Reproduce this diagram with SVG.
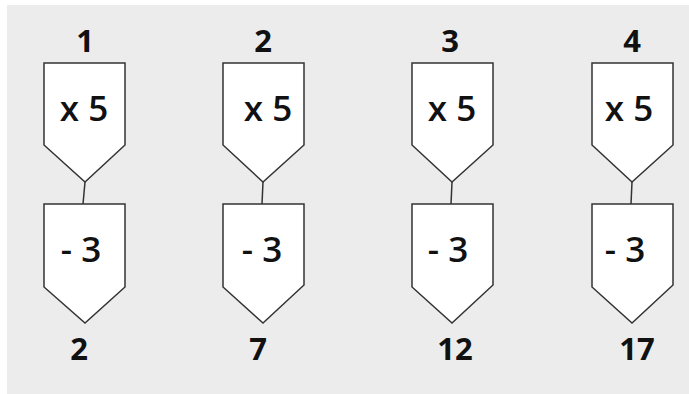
<svg xmlns="http://www.w3.org/2000/svg" width="689" height="394" viewBox="0 0 689 394">
<style>
.shape{fill:#fff;stroke:#333;stroke-width:1.5;stroke-linejoin:miter}
.conn{stroke:#333;stroke-width:1.5;fill:none}
.op{font-family:"Open Sans","Noto Sans",sans-serif;font-weight:600;font-size:35px;fill:#111;text-anchor:middle}
.num{font-family:"Open Sans","Noto Sans",sans-serif;font-weight:700;font-size:31px;fill:#111;text-anchor:middle}
</style>
<rect x="7" y="5" width="682" height="389" fill="#ececec"/>
<g id="connectors">
<line class="conn" x1="85" y1="182" x2="83" y2="204"/>
<line class="conn" x1="263" y1="182" x2="262" y2="204"/>
<line class="conn" x1="452" y1="182" x2="451" y2="204"/>
<line class="conn" x1="632" y1="182" x2="631" y2="204"/>
</g>
<g id="in1"><text class="num" x="85" y="52">1</text></g>
<g id="in2"><text class="num" x="263" y="52">2</text></g>
<g id="in3"><text class="num" x="450" y="52">3</text></g>
<g id="in4"><text class="num" x="632" y="52">4</text></g>
<g id="mul1"><path class="shape" d="M44,63H125V145L85,182L44,145Z"/><text class="op" x="84" y="121">x 5</text></g>
<g id="mul2"><path class="shape" d="M223,63H304V145L263,182L223,145Z"/><text class="op" x="268" y="121">x 5</text></g>
<g id="mul3"><path class="shape" d="M412,63H493V145L452,182L412,145Z"/><text class="op" x="452" y="121">x 5</text></g>
<g id="mul4"><path class="shape" d="M592,63H673V145L632,182L592,145Z"/><text class="op" x="629" y="121">x 5</text></g>
<g id="sub1"><path class="shape" d="M44,204H125V287L85,323L44,287Z"/><text class="op" x="81" y="262">- 3</text></g>
<g id="sub2"><path class="shape" d="M223,204H304V285L263,323L223,287Z"/><text class="op" x="262" y="262">- 3</text></g>
<g id="sub3"><path class="shape" d="M412,204H493V285L452,323L412,287Z"/><text class="op" x="448" y="262">- 3</text></g>
<g id="sub4"><path class="shape" d="M592,204H673V285L632,323L592,287Z"/><text class="op" x="625" y="262">- 3</text></g>
<g id="out1"><text class="num" x="79" y="360">2</text></g>
<g id="out2"><text class="num" x="258" y="360">7</text></g>
<g id="out3"><text class="num" x="455" y="360">12</text></g>
<g id="out4"><text class="num" x="637" y="360">17</text></g>
</svg>
